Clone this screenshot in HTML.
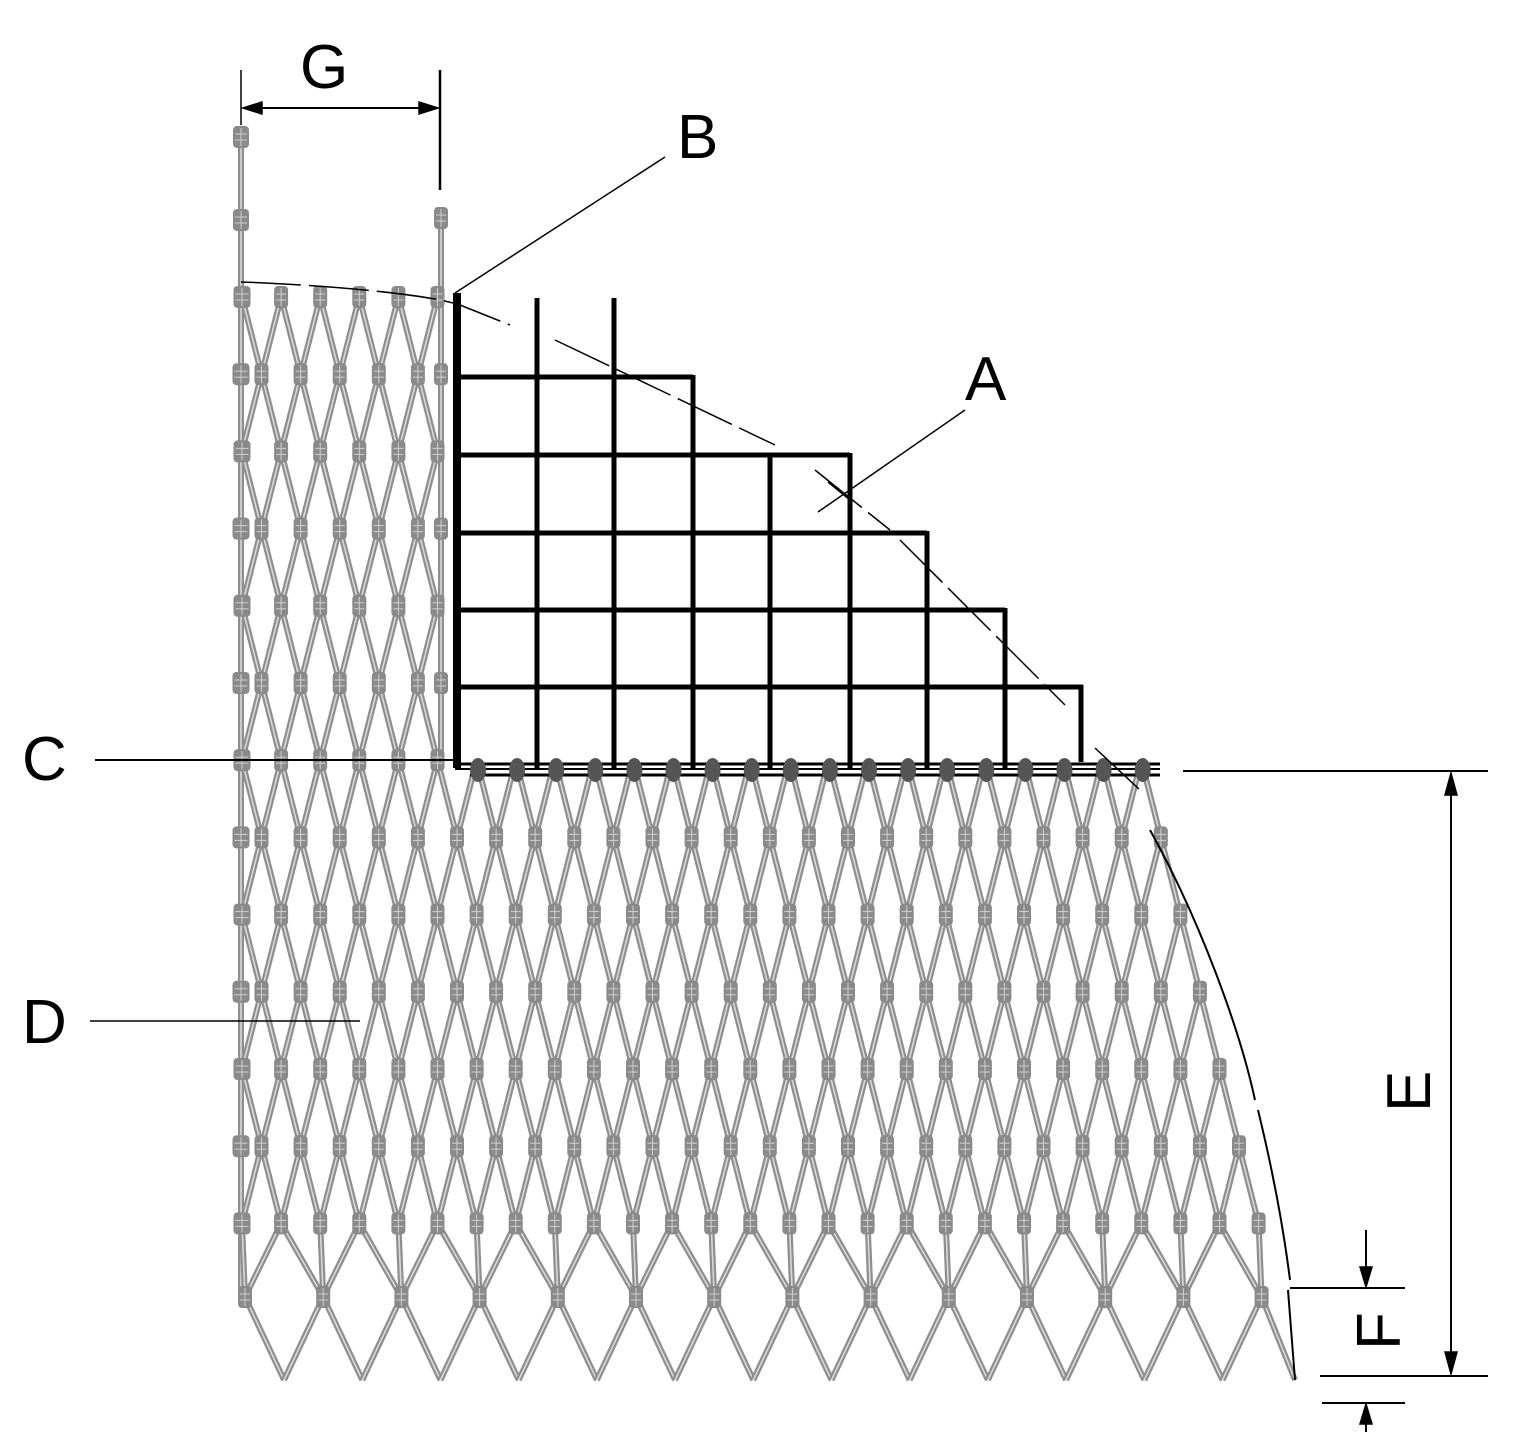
<!DOCTYPE html>
<html><head><meta charset="utf-8"><style>
html,body{margin:0;padding:0;background:#fff}
svg{display:block}
text{font-family:"Liberation Sans",sans-serif;fill:#000}
</style></head><body>
<svg id="s" width="1535" height="1439" viewBox="0 0 1535 1439" xmlns="http://www.w3.org/2000/svg">
<g id="mesh"></g>
<g id="grid" stroke="#000" fill="none"></g>
<g id="dots" fill="#555"></g>
<g stroke="#000" fill="none" stroke-width="1.5">
  <path d="M241,282 C300,284 420,292 460,305 L510,325 M555,340 L775,445 M815,470 L890,530 M900,540 L1065,705 M1095,748 L1140,790" stroke-dasharray="60,8"/>
  <path d="M1150,830 C1200,920 1240,1030 1255,1100 M1258,1110 C1275,1180 1285,1240 1290,1280 M1288,1290 L1295,1380" stroke-width="2"/>
  <line x1="241" y1="70" x2="241" y2="125"/>
  <line x1="440" y1="70" x2="440" y2="190" stroke-width="2.5"/>
  <line x1="245" y1="108" x2="436" y2="108" stroke-width="2"/>
  <path d="M243,108 L262,102 L262,114 Z M438,108 L419,102 L419,114 Z" fill="#000"/>
  <line x1="665" y1="157" x2="455" y2="293"/>
  <line x1="965" y1="410" x2="818" y2="512"/>
  <line x1="828" y1="482" x2="850" y2="500"/>
  <line x1="95" y1="760" x2="455" y2="760" stroke-width="2"/>
  <line x1="90" y1="1021" x2="360" y2="1021"/>
  <line x1="1183" y1="771" x2="1488" y2="771" stroke-width="2"/>
  <line x1="1320" y1="1376" x2="1488" y2="1376" stroke-width="2"/>
  <line x1="1451" y1="775" x2="1451" y2="1372" stroke-width="2"/>
  <path d="M1451,773 L1445,795 L1457,795 Z M1451,1374 L1445,1352 L1457,1352 Z" fill="#000"/>
  <line x1="1290" y1="1288" x2="1405" y2="1288" stroke-width="2"/>
  <line x1="1322" y1="1403" x2="1405" y2="1403" stroke-width="2"/>
  <line x1="1366" y1="1230" x2="1366" y2="1286" stroke-width="2"/>
  <line x1="1366" y1="1405" x2="1366" y2="1432" stroke-width="2"/>
  <path d="M1366,1287 L1360,1267 L1372,1267 Z M1366,1404 L1360,1424 L1372,1424 Z" fill="#000"/>
</g>
<text x="300" y="88" font-size="62">G</text>
<text x="677" y="158" font-size="62">B</text>
<text x="965" y="400" font-size="62">A</text>
<text x="22" y="780" font-size="62">C</text>
<text x="22" y="1043" font-size="62">D</text>
<text font-size="62" transform="translate(1430,1112) rotate(-90)">E</text>
<text font-size="62" transform="translate(1400,1350) rotate(-90)">F</text>
</svg>
<script>
const NS="http://www.w3.org/2000/svg";
const mesh=document.getElementById('mesh');
function el(p,tag,attrs){const e=document.createElementNS(NS,tag);for(const k in attrs)e.setAttribute(k,attrs[k]);p.appendChild(e);return e;}
function link(x1,y1,x2,y2){
  el(mesh,'line',{x1,y1,x2,y2,stroke:'#8e8e8e','stroke-width':6});
  el(mesh,'line',{x1,y1,x2,y2,stroke:'#d8d8d8','stroke-width':1.6});
}
const nodes=[];
function node(x,y,w,h){nodes.push([x,y,w||14,h||22]);}
function f(y){const pts=[[700,1145],[760,1145],[840,1168],[918,1200],[995,1225],[1072,1245],[1150,1262],[1225,1278],[1300,1265]];
 for(let i=0;i<pts.length-1;i++){if(y<=pts[i+1][0]){const t=(y-pts[i][0])/(pts[i+1][0]-pts[i][0]);return pts[i][1]+t*(pts[i+1][1]-pts[i][1]);}}return 1265;}
const dy=77.2, dx=39.1;
function rowY(r){return 297+dy*r;}
function rowXs(r){const xs=[];const off=(r%2)?19.5:0;const y=rowY(r);
  for(let k=0;k<40;k++){const x=242+dx*k+off;if(r<6){if(x>442)break;}else{if(x>f(y))break;}xs.push(x);}
  if(r%2&&r<13){xs.unshift(241);} return xs;}
const rows=[];for(let r=0;r<=12;r++)rows.push(rowXs(r));
link(241,137,241,1297);
link(441,218,441,760);
node(241,137,16,22);node(241,220,16,22);node(441,218,14,22);
for(let r=0;r<12;r++){
  const y1=rowY(r),y2=rowY(r+1);
  for(const x of rows[r]){ if(x===241&&r%2)continue;
    for(const s of[-19.5,19.5]){const xn=x+s;
      if(xn<240)continue;
      if(rows[r+1].some(v=>Math.abs(v-xn)<2)) link(x,y1,xn,y2);
    }
  }
}
for(let r=0;r<=12;r++){const y=rowY(r);for(const x of rows[r]){
  if(r===6&&x>455)continue; node(x,y, (x<245||Math.abs(x-441)<2)?17:14, 22);} }
node(441,rowY(1));node(441,rowY(3));node(441,rowY(5));
const yb=1297,yv=1380;
const r12=rows[12];
r12.forEach((x,k)=>{ if(k%2===0){link(x,rowY(12),x+3,yb);} else {link(x,rowY(12),x-39.1+3,yb);link(x,rowY(12),x+39.1+3,yb);} });
let lastx=0;
for(let k=0;k<14;k++){const x=245+78.2*k; if(x>1262)break; node(x,yb,14,22); lastx=x;
  if(k>0)link(x,yb,x-39.1,yv); if(x+39.1<1290)link(x,yb,x+39.1,yv); }
link(lastx,yb,1295,yv);
for(const [x,y,w,h] of nodes){
  el(mesh,'rect',{x:x-w/2,y:y-h/2,width:w,height:h,rx:4,fill:'#8a8a8a'});
  el(mesh,'line',{x1:x,y1:y-h/2+2,x2:x,y2:y+h/2-2,stroke:'#cfcfcf','stroke-width':1});
  el(mesh,'line',{x1:x-w/2+2,y1:y-3,x2:x+w/2-2,y2:y-3,stroke:'#cfcfcf','stroke-width':1});
  el(mesh,'line',{x1:x-w/2+2,y1:y+3,x2:x+w/2-2,y2:y+3,stroke:'#cfcfcf','stroke-width':1});
}
const g=document.getElementById('grid');
function bar(x1,y1,x2,y2,w){el(g,'line',{x1,y1,x2,y2,'stroke-width':w||5});}
bar(457,293,457,768,8);
bar(455,377,693,377);bar(455,455,850,455);bar(455,533,927,533);bar(455,610,1005,610);bar(455,687,1083,687);
bar(537,298,537,768);bar(614,298,614,768);bar(693,375,693,768);bar(770,453,770,768);bar(850,453,850,768);
bar(927,531,927,768);bar(1005,608,1005,768);bar(1081,685,1081,762);
bar(455,764,1160,764,3);bar(470,775,1160,775,3);bar(455,769,1160,769,2);
const d=document.getElementById('dots');
for(let k=0;k<18;k++){const x=478+39.1*k;if(x>1150)break;el(d,'ellipse',{cx:x,cy:770,rx:8,ry:12});}
</script>
</body></html>
